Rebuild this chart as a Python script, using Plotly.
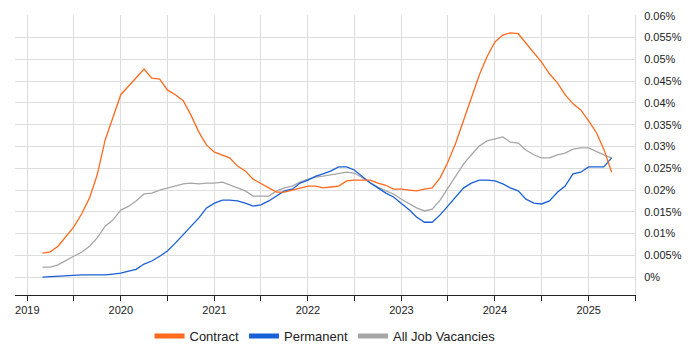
import pandas as pd
import plotly.graph_objects as go

# Monthly dates, March 2019 .. April 2025
dates = pd.date_range("2019-03-01", periods=74, freq="MS")

contract = [
    0.0055, 0.0058, 0.0071, 0.0094, 0.0115, 0.0145, 0.0182, 0.0235, 0.0315, 0.0366,
    0.0419, 0.0439, 0.0457, 0.0478, 0.0457, 0.0455, 0.0430, 0.0419, 0.0405, 0.0372, 0.0333, 0.0303,
    0.0287, 0.0280, 0.0274, 0.0255, 0.0244, 0.0225, 0.0216, 0.0205, 0.0195, 0.0195, 0.0200, 0.0205,
    0.0209, 0.0209, 0.0205, 0.0207, 0.0209, 0.0221, 0.0223, 0.0223, 0.0223, 0.0216, 0.0211, 0.0202,
    0.0202, 0.0200, 0.0198, 0.0202, 0.0205, 0.0228, 0.0264, 0.0308, 0.0361, 0.0414, 0.0464, 0.0506,
    0.0540, 0.0556, 0.0561, 0.0559, 0.0538, 0.0517, 0.0494, 0.0467, 0.0446, 0.0419, 0.0398, 0.0384,
    0.0359, 0.0331, 0.0294, 0.0241,
]

permanent = [
    0.0000, 0.0001, 0.0002, 0.0003, 0.0005, 0.0005, 0.0005, 0.0005, 0.0005, 0.0007,
    0.0009, 0.0014, 0.0018, 0.0030, 0.0037, 0.0048, 0.0060, 0.0078, 0.0097, 0.0115, 0.0136, 0.0159,
    0.0170, 0.0177, 0.0177, 0.0175, 0.0170, 0.0163, 0.0166, 0.0175, 0.0186, 0.0198, 0.0202, 0.0216,
    0.0223, 0.0232, 0.0237, 0.0244, 0.0253, 0.0253, 0.0246, 0.0230, 0.0216, 0.0205, 0.0193, 0.0184,
    0.0170, 0.0154, 0.0138, 0.0126, 0.0126, 0.0143, 0.0163, 0.0184, 0.0205, 0.0216, 0.0223, 0.0223,
    0.0221, 0.0214, 0.0205, 0.0198, 0.0179, 0.0170, 0.0168, 0.0175, 0.0195, 0.0209, 0.0237, 0.0241,
    0.0253, 0.0253, 0.0253, 0.0274,
]

all_jobs = [
    0.0023, 0.0023, 0.0028, 0.0039, 0.0048, 0.0057, 0.0071, 0.0090, 0.0117, 0.0131,
    0.0154, 0.0163, 0.0175, 0.0191, 0.0193, 0.0200, 0.0205, 0.0209, 0.0214, 0.0216, 0.0214, 0.0216,
    0.0216, 0.0218, 0.0211, 0.0205, 0.0198, 0.0186, 0.0186, 0.0186, 0.0198, 0.0205, 0.0209, 0.0218,
    0.0225, 0.0230, 0.0232, 0.0235, 0.0239, 0.0241, 0.0239, 0.0228, 0.0216, 0.0207, 0.0198, 0.0191,
    0.0179, 0.0168, 0.0159, 0.0152, 0.0156, 0.0177, 0.0205, 0.0232, 0.0260, 0.0281, 0.0301, 0.0313,
    0.0317, 0.0322, 0.0310, 0.0308, 0.0292, 0.0281, 0.0274, 0.0274, 0.0281, 0.0285, 0.0294, 0.0297,
    0.0297, 0.0288, 0.0281, 0.0274,
]

series_names = ["Contract", "Permanent", "All Job Vacancies"]
series_colors = ["#ff6a1f", "#1a5fd8", "#a6a6a6"]

y_ticks = [0, 0.005, 0.01, 0.015, 0.02, 0.025, 0.03, 0.035, 0.04, 0.045, 0.05, 0.055, 0.06]
y_tick_labels = ["0%", "0.005%", "0.01%", "0.015%", "0.02%", "0.025%", "0.03%",
                 "0.035%", "0.04%", "0.045%", "0.05%", "0.055%", "0.06%"]

x_ticks = pd.date_range("2019-01-01", "2025-07-01", freq="6MS")
x_tick_labels = [str(d.year) if d.month == 1 else "" for d in x_ticks]

fig = go.Figure()
# data lines (grey drawn first, underneath)
for name, vals, col in [(series_names[2], all_jobs, series_colors[2]),
                        (series_names[1], permanent, series_colors[1]),
                        (series_names[0], contract, series_colors[0])]:
    fig.add_trace(go.Scatter(x=dates, y=vals, name=name, mode="lines",
                             line=dict(color=col, width=1.3), showlegend=False))
# legend entries with thick swatches
for i, (name, col) in enumerate(zip(series_names, series_colors)):
    fig.add_trace(go.Scatter(x=[None], y=[None], name=name, mode="lines",
                             line=dict(color=col, width=5), showlegend=True,
                             legendrank=i + 1))

# the page body adds an 8px offset, so the figure is sized to fit the window
fig.update_layout(
    width=692, height=342,
    margin=dict(l=7, r=65, t=7, b=10, autoexpand=False),
    paper_bgcolor="white", plot_bgcolor="white",
    font=dict(family="Liberation Sans, Arial, sans-serif", size=11, color="#222"),
    showlegend=True,
    legend=dict(orientation="h", x=0.5, xanchor="center", y=0.0123, yanchor="middle",
                font=dict(size=13, color="#222"), itemwidth=30, traceorder="normal",
                bgcolor="rgba(0,0,0,0)"),
    hovermode=False,
)
fig.update_xaxes(
    range=["2018-11-14", "2025-07-01"],
    tickvals=x_ticks, ticktext=x_tick_labels,
    showgrid=True, gridcolor="#dddddd", gridwidth=1,
    showline=True, linecolor="#222", linewidth=1,
    ticks="outside", ticklen=5, tickcolor="#222",
    tickfont=dict(size=11, color="#222"),
    zeroline=False, automargin=False,
)
fig.update_yaxes(
    range=[-0.0041, 0.0602], side="right", domain=[0.1385, 1],
    tickvals=y_ticks, ticktext=y_tick_labels,
    showgrid=True, gridcolor="#dddddd", gridwidth=1,
    showline=True, linecolor="#dddddd", linewidth=1,
    ticks="outside", ticklen=6, tickcolor="rgba(0,0,0,0)",
    tickfont=dict(size=11, color="#222"),
    zeroline=False, automargin=False,
)

fig.write_html("out.html")
